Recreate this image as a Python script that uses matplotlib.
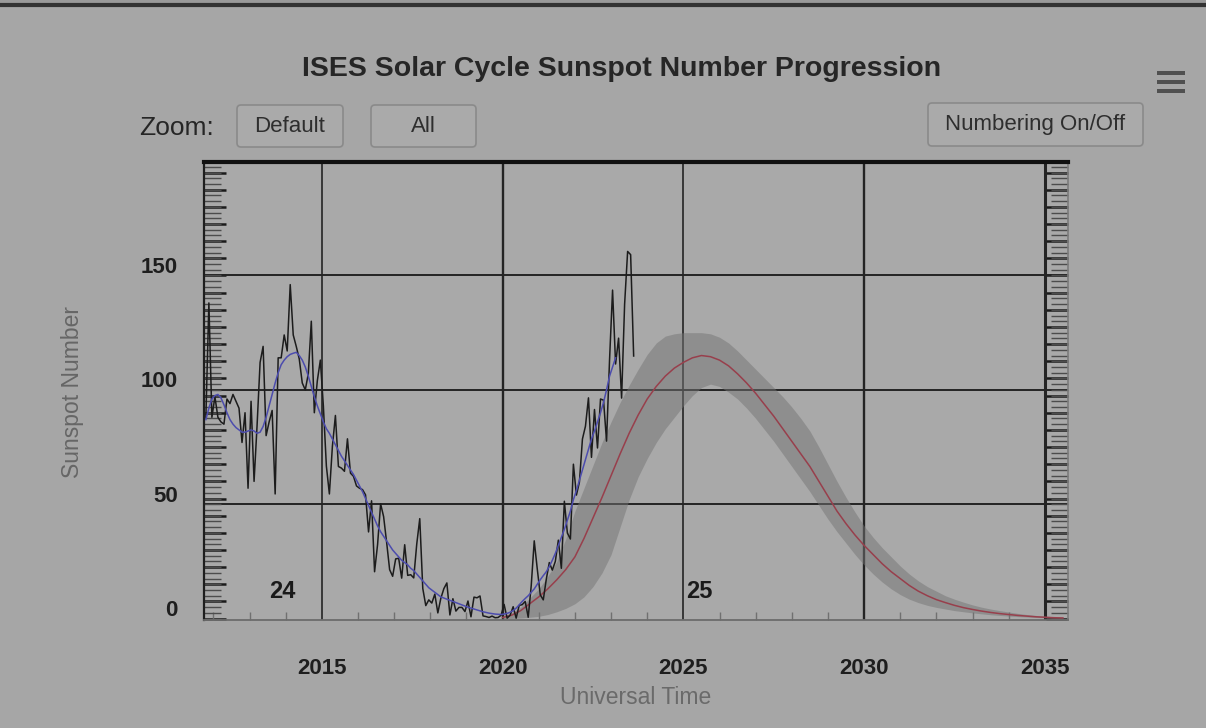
import numpy as np
import matplotlib
matplotlib.use('Agg')
import matplotlib.pyplot as plt
from matplotlib.ticker import MultipleLocator, NullLocator
from matplotlib.patches import FancyBboxPatch, Rectangle
from matplotlib.lines import Line2D
from matplotlib.transforms import ScaledTranslation, blended_transform_factory

plt.rcParams['font.family'] = ['Liberation Sans', 'DejaVu Sans']

# ---------------- data ----------------
# monthly observed sunspot number, Oct 2011 .. Aug 2023
obs_start = (2011, 10)
obs_values = [
    88, 138, 88,
    97, 88, 86, 85, 96, 94, 98, 95, 92, 77, 90, 57,
    95, 60, 84.5, 112, 119, 80, 86, 91, 54.5, 114, 114, 124,
    117, 146, 124, 119, 113.5, 103, 100, 107, 130, 90, 104, 113,
    93, 66.7, 54.5, 75.3, 88.8, 66.5, 65.8, 64.4, 78.6, 63.6, 62.2, 58.0,
    57.0, 56.4, 54.1, 37.9, 51.5, 20.5, 32.4, 50.2, 44.6, 33.4, 21.4, 18.5,
    26.1, 26.4, 17.7, 32.3, 18.9, 19.2, 17.8, 32.6, 43.7, 13.2, 5.7, 8.2,
    6.8, 10.7, 2.5, 8.9, 13.1, 15.6, 1.6, 8.7, 3.3, 4.9, 4.9, 3.1,
    7.7, 0.8, 9.4, 9.1, 9.9, 1.2, 0.9, 0.5, 1.1, 0.4, 0.5, 1.5,
    6.2, 0.2, 1.5, 5.2, 0.2, 5.8, 6.1, 7.5, 0.6, 14.4, 34.0, 21.8,
    10.4, 8.2, 17.2, 24.5, 21.2, 25.0, 34.3, 22.0, 51.3, 37.4, 34.8, 67.5,
    54.0, 59.7, 78.5, 84.1, 96.5, 70.5, 91.4, 74.6, 96.0, 95.5, 77.6, 113.1,
    143.6, 111.3, 122.6, 96.4, 137.4, 160.5, 159.1, 114.8,
]
# smoothed sunspot number, Oct 2011 .. Feb 2023
smooth_values = [
    87, 92, 96,
    97.5, 98, 96.5, 93.5, 90, 87, 85, 83.5, 82.5, 81.5, 81.5, 82,
    82.5, 82, 81, 81.5, 84, 88, 93, 98, 103, 107.5, 111, 113,
    114.5, 115.5, 116, 116.4, 115, 113, 110, 106, 101.5, 97, 93, 89.5,
    86, 83, 81, 78.5, 76, 73.5, 71, 69, 67, 65, 63, 60.5,
    58, 55.5, 52.5, 49.5, 46.5, 43.5, 40.5, 38, 36, 34, 32, 30,
    28.5, 27, 25.5, 24.5, 23.5, 22, 21, 19.5, 18, 16.5, 15, 13.5,
    12.5, 11.5, 10.5, 9.5, 9, 8.5, 8, 7.5, 7, 6.5, 6, 5.5,
    5, 4.6, 4.2, 3.8, 3.4, 3, 2.7, 2.4, 2.2, 2, 1.9, 1.8,
    2.0, 2.3, 2.8, 3.5, 4.6, 6.0, 7.5, 8.8, 10.0, 11.5, 13.0, 15.0,
    17.0, 18.8, 20.5, 22.8, 25.5, 28.5, 32.0, 35.5, 39.0, 43.0, 47.0, 52.0,
    56.0, 60.5, 65.0, 69.5, 74.0, 78.5, 82.0, 86.0, 90.0, 94.5, 100.0, 106.0,
    110.0, 114.0,
]
# predicted cycle 25, quarterly from 2020.0 to 2035.5
pred_start = 2020.0
pred_step = 0.25
pred_values = [
    0.5, 1.5, 3.5, 6.5, 9.5, 13, 17, 21.5, 27, 35, 44, 53, 62.5, 72, 81, 89,
    96, 101.5, 106, 109.5, 112, 114, 115, 114.5, 113, 110.5, 107, 103, 98.5,
    93.5, 88.5, 83, 77.5, 72, 66.5, 60, 53.5, 47, 41.5, 36.5, 32, 28, 24,
    20.5, 17.5, 14.5, 12, 10, 8.3, 7, 5.8, 4.8, 4, 3.3, 2.7, 2.2, 1.8, 1.4,
    1.1, 0.8, 0.6, 0.4, 0.3,
]
pred_high = [
    1, 2.5, 5, 9, 13, 18.5, 25, 35, 47, 57, 67, 77, 86, 94.5, 102, 109,
    115.5, 120.5, 123.5, 124.5, 125, 125, 125, 124.5, 123, 120.5, 117, 113,
    109, 105, 101, 97, 92.5, 87.5, 82, 75, 67.5, 60, 53, 46.5, 40.5, 35.5,
    31, 27, 23, 19.5, 16.5, 14, 12, 10, 8.5, 7.2, 6, 5, 4.2, 3.5, 2.9, 2.3,
    1.8, 1.4, 1.1, 0.8, 0.6,
]
pred_low = [
    0, 0.1, 0.3, 0.6, 1, 1.8, 3, 4.5, 6.5, 9.5, 14, 20, 28, 40, 52, 62,
    70, 77, 83, 88, 93, 97.5, 101, 102.5, 101.5, 99, 96, 92, 87.5, 82.5,
    77.5, 72, 66.5, 61, 55.5, 49.5, 43.5, 38, 33, 28, 23.5, 19.5, 16, 13,
    10.5, 8.5, 7, 5.8, 4.9, 4.2, 3.5, 3, 2.5, 2.1, 1.7, 1.4, 1.1, 0.9, 0.7,
    0.5, 0.35, 0.25, 0.15,
]
x_tick_years = [2015, 2020, 2025, 2030, 2035]
x_tick_labels = ['2015', '2020', '2025', '2030', '2035']
y_tick_values = [0, 50, 100, 150]
y_tick_labels = ['0', '50', '100', '150']
y_grid_values = [50, 100, 150]
cycle_labels = [('24', 2013.9), ('25', 2025.45)]

# ---------------- layout ----------------
W, H = 1206, 728
fig = plt.figure(figsize=(W / 100, H / 100), dpi=100, facecolor='#a6a6a6')
ax = fig.add_axes([204 / W, 1 - 620 / H, 864 / W, 458 / H])
ax.set_facecolor('#a9a9a9')
ax.set_xlim(2011.74, 2035.64)
ax.set_ylim(-0.6, 199.6)

def month_times(start, n):
    y0, m0 = start
    return y0 + (m0 - 1 + np.arange(n) + 0.5) / 12.0

obs_t = month_times(obs_start, len(obs_values))
smooth_t = month_times(obs_start, len(smooth_values))
pred_t = pred_start + pred_step * np.arange(len(pred_values))

# grid lines
grid_w = {2015: 1.2, 2020: 1.7, 2025: 1.2, 2030: 1.7, 2035: 2.2}
for yr in x_tick_years:
    ax.axvline(yr, color='#242424', lw=grid_w[yr], zorder=1)
for v in y_grid_values:
    ax.axhline(v, color='#242424', lw=1.4, zorder=1)

# band + prediction
ax.fill_between(pred_t, pred_low, pred_high, color='#747474', alpha=0.5,
                lw=0, zorder=2)
ax.plot(pred_t, pred_values, color='#983f4c', lw=1.1, zorder=3)
# observations
ax.plot(obs_t, obs_values, color='#1c1c1c', lw=1.1, zorder=4)
ax.plot(smooth_t, smooth_values, color='#4c4cae', lw=1.1, zorder=5)

# spines
ax.spines['top'].set_linewidth(3)
ax.spines['top'].set_color('#111111')
ax.spines['left'].set_linewidth(1.6)
ax.spines['left'].set_color('#1e1e1e')
ax.spines['bottom'].set_linewidth(1.3)
ax.spines['bottom'].set_color('#6c6c6c')
ax.spines['right'].set_linewidth(1.2)
ax.spines['right'].set_color('#7c7c7c')

# x ticks
ax.set_xticks(x_tick_years)
ax.set_xticklabels(x_tick_labels, fontsize=16, fontweight='bold', color='#1e1e1e')
ax.xaxis.set_minor_locator(MultipleLocator(1))
ax.tick_params(axis='x', which='major', length=0, pad=27)
ax.tick_params(axis='x', which='minor', direction='in', length=6, width=1.0,
               color='#707070', bottom=True, top=False)

# y ticks: dense inward ticks both sides, labels drawn separately
ax.set_yticks([])
ax.yaxis.set_minor_locator(MultipleLocator(2.5))
ax.tick_params(axis='y', which='minor', direction='in', length=12, width=1.0,
               color='#4c4c4c', left=True, right=True)
for side in ('left', 'right'):
    sec = ax.secondary_yaxis(side)
    sec.yaxis.set_major_locator(MultipleLocator(7.5))
    sec.yaxis.set_minor_locator(NullLocator())
    sec.tick_params(direction='in', length=16, width=1.8, color='#1a1a1a',
                    labelleft=False, labelright=False)
    for s in sec.spines.values():
        s.set_visible(False)

ylab_tr = blended_transform_factory(ax.transAxes, ax.transData) + \
    ScaledTranslation(0, 0.08, fig.dpi_scale_trans)
for v, lab in zip(y_tick_values, y_tick_labels):
    ax.text(-26 / 864, v, lab, transform=ylab_tr, ha='right', va='center',
            fontsize=16, fontweight='bold', color='#1e1e1e')

for lab, yr in cycle_labels:
    ax.text(yr, 12, lab, ha='center', va='center', fontsize=17,
            fontweight='bold', color='#1a1a1a', zorder=6)

# axis labels
fig.text(72 / W, 1 - 392 / H, 'Sunspot Number', rotation=90, ha='center',
         va='center', fontsize=16.5, color='#666666')
fig.text(636 / W, 1 - 697 / H, 'Universal Time', ha='center', va='center',
         fontsize=16.5, color='#6a6a6a')

# title
fig.text(622 / W, 1 - 69 / H, 'ISES Solar Cycle Sunspot Number Progression',
         ha='center', va='center', fontsize=20.5, fontweight='bold',
         color='#262626')

# buttons / UI chrome (pixel coords -> inches)
def px(x, y):
    return x / 100.0, (H - y) / 100.0

def button(x0, y0, x1, y1, label):
    bx, by = px(x0, y1)
    p = FancyBboxPatch((bx, by), (x1 - x0) / 100.0, (y1 - y0) / 100.0,
                       boxstyle='round,pad=0,rounding_size=0.04',
                       transform=fig.dpi_scale_trans, facecolor='#aaaaaa',
                       edgecolor='#8a8a8a', lw=1.2)
    fig.add_artist(p)
    cx, cy = px((x0 + x1) / 2, (y0 + y1) / 2)
    fig.text(cx, cy, label, transform=fig.dpi_scale_trans, ha='center',
             va='center', fontsize=16, color='#2e2e2e')

zx, zy = px(139, 128)
fig.text(zx, zy, 'Zoom:', transform=fig.dpi_scale_trans, ha='left',
         va='center', fontsize=19, color='#262626')
button(237, 105, 343, 147, 'Default')
button(371, 105, 476, 147, 'All')
button(928, 103, 1143, 146, 'Numbering On/Off')

for yb in (73, 82, 91):
    rx, ry = px(1157, yb + 2)
    fig.add_artist(Rectangle((rx, ry), 0.28, 0.04, transform=fig.dpi_scale_trans,
                             facecolor='#505050', edgecolor='none'))

# top bezel
fig.add_artist(Line2D([0, 1], [1 - 5 / H, 1 - 5 / H], transform=fig.transFigure,
                      color='#333333', lw=3))
fig.add_artist(Rectangle((0, 1 - 3 / H), 1, 3 / H, transform=fig.transFigure,
                         facecolor='#9a9a9a', edgecolor='none'))

fig.savefig('out.png', dpi=100, facecolor=fig.get_facecolor())
